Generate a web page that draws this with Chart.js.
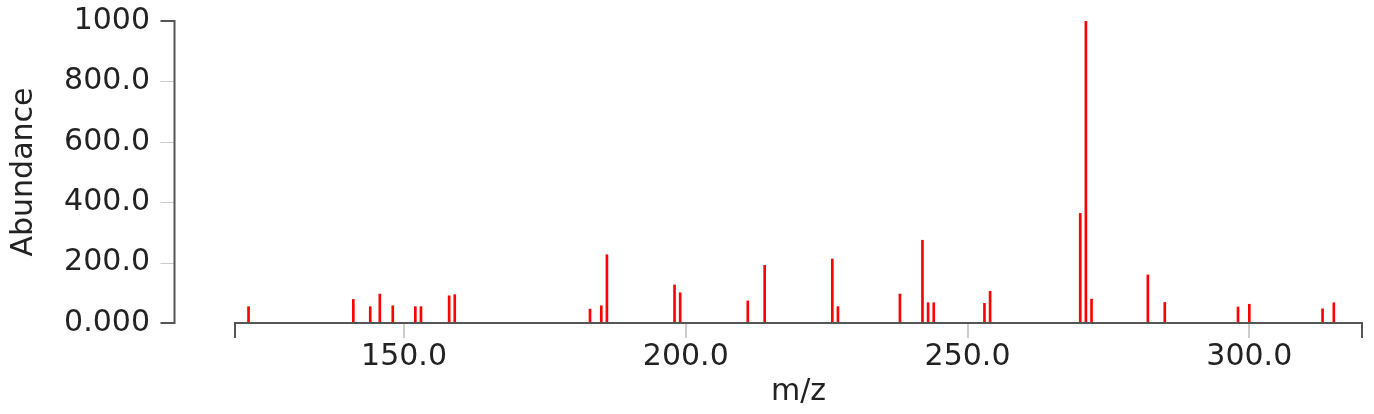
<!DOCTYPE html>
<html>
<head>
<meta charset="utf-8">
<script src="https://cdn.jsdelivr.net/npm/chart.js@4"></script>
<style>
  body { margin: 0; background: #fff; }
  #wrap { width: 1374px; height: 414px; }
</style>
</head>
<body>
<div id="wrap"><canvas id="spectrum"></canvas></div>
<script>
// m/z values and their abundances
const mzValues = [122.4, 141, 144, 145.7, 148, 152, 153, 158, 159, 183, 185, 186, 198, 199, 211, 214,
  226, 227, 238, 242, 243, 244, 253, 254, 270, 271, 272, 282, 285, 298, 300, 313, 315];
const abundances = [54, 78, 54, 96, 57, 54, 54, 90, 94, 46, 57, 226, 126, 100, 73, 191,
  212, 54, 96, 274, 67, 67, 65, 105, 363, 1000, 79, 159, 68, 53, 62, 47, 67];
const xTickValues = [150, 200, 250, 300];
const yTickValues = [0, 200, 400, 600, 800, 1000];

const fontFamily = "'DejaVu Sans', Verdana, sans-serif";
const textColor = '#222';
const domainColor = '#555';
const tickColor = '#ccc';

// d3-style axis lines: y axis sits apart from the plot, both have bracket ends
const axisLines = {
  id: 'axisLines',
  afterDraw(chart) {
    const {ctx, scales} = chart;
    const x = scales.x, y = scales.y;
    const yLineX = 174.5, tick = 14;
    ctx.save();
    ctx.lineWidth = 1;
    ctx.strokeStyle = tickColor;
    yTickValues.slice(1, -1).forEach(v => {
      const py = Math.round(y.getPixelForValue(v)) + 0.5;
      ctx.beginPath();
      ctx.moveTo(yLineX - tick, py);
      ctx.lineTo(yLineX, py);
      ctx.stroke();
    });
    ctx.lineWidth = 2;
    ctx.strokeStyle = domainColor;
    const top = Math.round(y.getPixelForValue(1000));
    const bottom = Math.round(y.getPixelForValue(0));
    ctx.beginPath();
    ctx.moveTo(yLineX - tick, top);
    ctx.lineTo(yLineX, top);
    ctx.lineTo(yLineX, bottom);
    ctx.lineTo(yLineX - tick, bottom);
    ctx.stroke();

    const left = Math.round(x.getPixelForValue(120));
    const right = Math.round(x.getPixelForValue(320));
    ctx.beginPath();
    ctx.moveTo(left, bottom + 15);
    ctx.lineTo(left, bottom);
    ctx.lineTo(right, bottom);
    ctx.lineTo(right, bottom + 15);
    ctx.stroke();
    ctx.restore();
  }
};

const data = {
  datasets: [{
    label: 'Abundance',
    data: mzValues.map((m, i) => ({x: m, y: abundances[i]})),
    backgroundColor: '#ff0000',
    borderWidth: 0,
    barThickness: 2,
    grouped: false
  }]
};

const config = {
  type: 'bar',
  data: data,
  options: {
    responsive: true,
    maintainAspectRatio: false,
    animation: false,
    layout: {
      padding: {top: 21, right: 12, left: 0, bottom: 0}
    },
    plugins: {
      legend: { display: false },
      tooltip: { enabled: false }
    },
    scales: {
      x: {
        type: 'linear',
        min: 120,
        max: 320,
        offset: false,
        afterBuildTicks: s => { s.ticks = xTickValues.map(v => ({value: v})); },
        afterFit: s => { s.height = 91; },
        border: { display: false },
        grid: {
          offset: false,
          drawOnChartArea: false,
          drawTicks: true,
          tickLength: 15,
          color: tickColor,
          lineWidth: 2
        },
        ticks: {
          padding: 1,
          maxRotation: 0,
          color: textColor,
          font: { family: fontFamily, size: 30 },
          callback: v => Number(v).toPrecision(4)
        },
        title: {
          display: true,
          text: 'm/z',
          color: textColor,
          font: { family: fontFamily, size: 30 },
          padding: {top: 0, bottom: 4}
        }
      },
      y: {
        min: 0,
        max: 1000,
        afterBuildTicks: s => { s.ticks = yTickValues.map(v => ({value: v})); },
        afterFit: s => {
          s.width = 235;
          s.paddingTop = 0;
          s.paddingBottom = 0;
        },
        border: { display: false },
        grid: { display: false, drawTicks: false },
        ticks: {
          padding: 85,
          color: textColor,
          font: { family: fontFamily, size: 30 },
          callback: v => Number(v).toPrecision(4)
        },
        title: {
          display: true,
          text: 'Abundance',
          color: textColor,
          font: { family: fontFamily, size: 30 },
          padding: {top: 6, bottom: 0}
        }
      }
    }
  },
  plugins: [axisLines]
};

const spectrumChart = new Chart(document.getElementById('spectrum'), config);
</script>
</body>
</html>
